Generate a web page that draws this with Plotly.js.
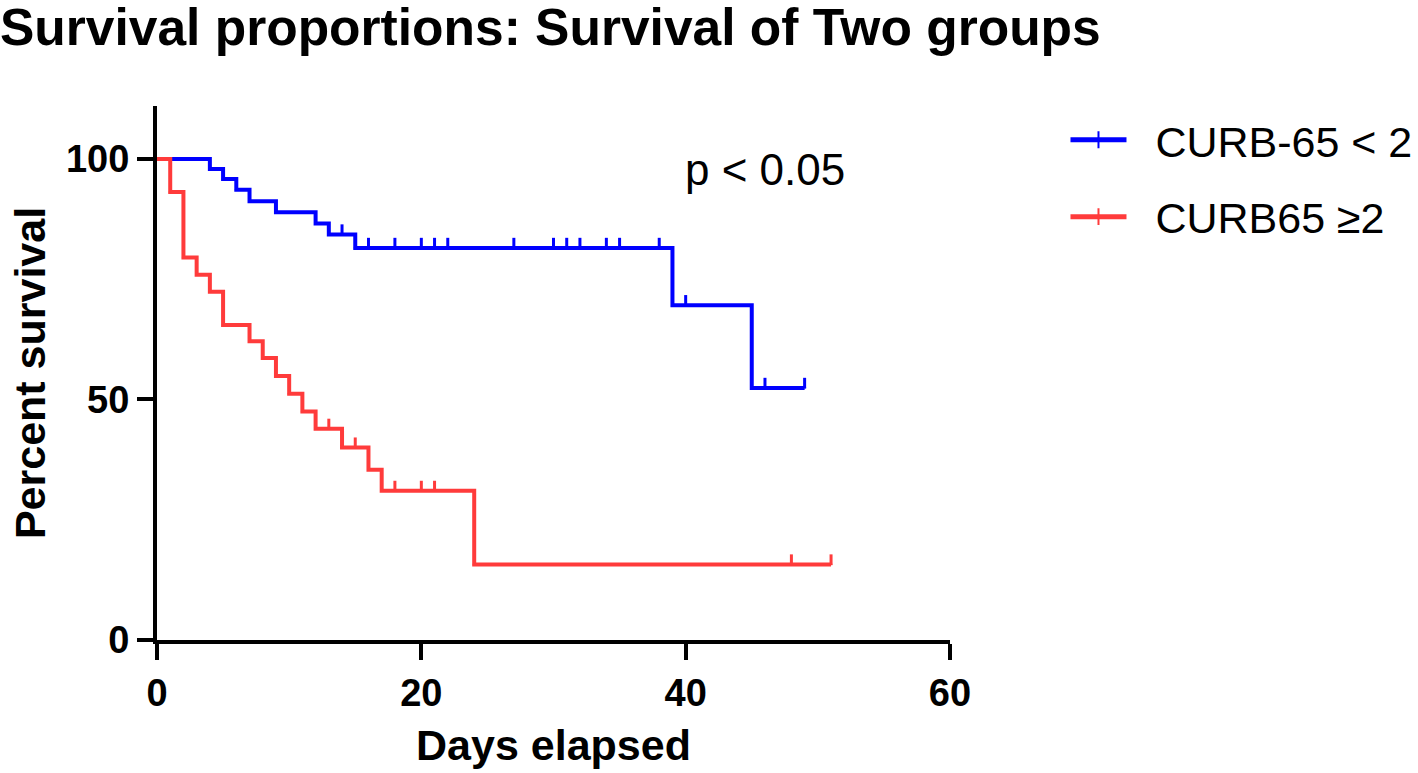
<!DOCTYPE html>
<html>
<head>
<meta charset="utf-8">
<script src="https://cdn.plot.ly/plotly-3.0.1.min.js"></script>
<style>html,body{margin:0;padding:0;background:#fff;}#chart{width:1418px;height:773px;}</style>
</head>
<body>
<div id="chart"></div>
<script>
// ---- data ----
const groupNames = ['CURB-65 < 2', 'CURB65 \u22652'];

// CURB-65 < 2 (blue): step times (days) and survival (%)
const blueDays     = [0, 4, 5, 6, 7, 9, 12, 13, 15, 39, 45, 49];
const blueSurvival = [100, 97.9, 95.8, 93.6, 91.2, 88.9, 86.6, 84.3, 81.5, 69.6, 52.4, 52.4];
const blueCensored = [14, 16, 18, 20, 21, 22, 27, 30, 31, 32, 34, 35, 38, 40, 46, 49];

// CURB65 >= 2 (red)
const redDays     = [0, 1, 2, 3, 4, 5, 7, 8, 9, 10, 11, 12, 14, 16, 17, 24, 51];
const redSurvival = [100, 93.1, 79.5, 75.9, 72.4, 65.5, 62.1, 58.6, 54.9, 51.2, 47.5, 43.9, 40.0, 35.4, 31.0, 15.7, 15.7];
const redCensored = [13, 15, 18, 20, 21, 48, 51];

const xTicks = [0, 20, 40, 60];
const yTicks = [0, 50, 100];

// ---- helpers ----
function survivalAt(days, surv, t) {
  let s = surv[0];
  for (let i = 0; i < days.length; i++) { if (days[i] <= t) s = surv[i]; }
  return s;
}
const FONT = 'Arial, "Liberation Sans", sans-serif';
const BLUE = '#0000ff';
const RED = '#ff3b3b';
const CENSOR_H = 2.1; // tick height in %
const LEGEND_PAD = '\u00A0\u00A0';

function stepTrace(days, surv, name, color, group) {
  return {
    x: days, y: surv, name: LEGEND_PAD + name, type: 'scatter', mode: 'lines+markers',
    line: {shape: 'hv', color: color, width: 4},
    marker: {size: 1, symbol: 'line-ns', color: color, line: {color: color, width: 3}},
    legendgroup: group, hoverinfo: 'x+y'
  };
}
function censorTrace(cens, days, surv, color, group) {
  return {
    x: cens, y: cens.map(t => survivalAt(days, surv, t)),
    type: 'scatter', mode: 'markers', showlegend: false, legendgroup: group,
    marker: {size: 1, color: 'rgba(0,0,0,0)'},
    error_y: {type: 'data', symmetric: false, array: cens.map(() => CENSOR_H),
              arrayminus: cens.map(() => 0), width: 0, thickness: 3, color: color},
    hoverinfo: 'x+y'
  };
}

const data = [
  stepTrace(blueDays, blueSurvival, groupNames[0], BLUE, 'g1'),
  censorTrace(blueCensored, blueDays, blueSurvival, BLUE, 'g1'),
  stepTrace(redDays, redSurvival, groupNames[1], RED, 'g2'),
  censorTrace(redCensored, redDays, redSurvival, RED, 'g2')
];

const layout = {
  width: 1418, height: 773,
  paper_bgcolor: '#ffffff', plot_bgcolor: '#ffffff',
  margin: {l: 157, r: 468, t: 106, b: 133},
  font: {family: FONT, color: '#000'},
  title: {text: 'Survival proportions: Survival of Two groups',
          x: 0, xref: 'container', xanchor: 'left',
          y: 0.988, yref: 'container', yanchor: 'top',
          font: {family: FONT, size: 51.5, weight: 'bold', color: '#000'}},
  xaxis: {
    range: [0, 60], tickvals: xTicks, ticktext: xTicks.map(String),
    showgrid: false, zeroline: false, showline: true, linecolor: '#000', linewidth: 4,
    ticks: 'outside', ticklen: 16, tickwidth: 4, tickcolor: '#000',
    tickfont: {family: FONT, size: 38, weight: 'bold'},
    title: {text: 'Days elapsed', standoff: 18, font: {family: FONT, size: 43, weight: 'bold'}},
    fixedrange: true
  },
  yaxis: {
    range: [0, 111], tickvals: yTicks, ticktext: yTicks.map(String),
    showgrid: false, zeroline: false, showline: true, linecolor: '#000', linewidth: 4,
    ticks: 'outside', ticklen: 16, tickwidth: 4, tickcolor: '#000',
    tickfont: {family: FONT, size: 38, weight: 'bold'},
    title: {text: 'Percent survival', standoff: 8, font: {family: FONT, size: 43, weight: 'bold'}},
    fixedrange: true
  },
  showlegend: true,
  legend: {
    xref: 'container', yref: 'container',
    x: 0.7514, xanchor: 'left', y: 0.8638, yanchor: 'top',
    font: {family: FONT, size: 43, color: '#000'},
    itemwidth: 56, itemsizing: 'constant', tracegroupgap: 18,
    bgcolor: 'rgba(0,0,0,0)', borderwidth: 0
  },
  annotations: [{
    x: 46, y: 97.8, xref: 'x', yref: 'y', text: 'p < 0.05', showarrow: false,
    font: {family: FONT, size: 44, color: '#000'}, xanchor: 'center', yanchor: 'middle'
  }]
};

Plotly.newPlot('chart', data, layout, {displayModeBar: false, staticPlot: true});
</script>
</body>
</html>
